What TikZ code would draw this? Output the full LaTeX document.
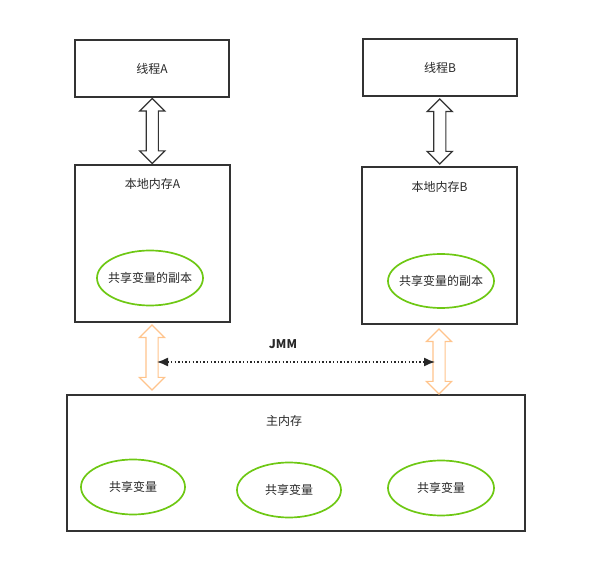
\documentclass[tikz,border=0pt]{standalone}
\usepackage{fontspec}
\setmainfont{Noto Sans CJK SC}
\usetikzlibrary{arrows.meta,shapes.geometric,shapes.arrows,calc}

\begin{document}
\begin{tikzpicture}[x=1pt,y=-1pt,font=\fontsize{12}{14}\selectfont,
 box/.style={draw=edge,line width=1.5pt,minimum width=154,minimum height=57,text=ink},
 var/.style={ellipse,draw=vargreen,line width=1.7pt,minimum width=106,minimum height=55,inner sep=0pt,text=ink},
 link/.style={double arrow,draw=#1,line width=1.2pt,fill=white,minimum height=65,
  inner xsep=0pt,inner ysep=5.5pt,double arrow head extend=6.5pt,rotate=90}]
\definecolor{edge}{RGB}{51,51,51}
\definecolor{ink}{RGB}{40,40,40}
\definecolor{vargreen}{RGB}{110,200,20}
\definecolor{sync}{RGB}{255,196,140}
\useasboundingbox (0,0) rectangle (595,561);
% threads and their working memory
\node[box] (thA) at (152,68.5) {线程A};
\node[box] (thB) at (440,67.5) {线程B};
\node[box,minimum width=155,minimum height=157] (memA) at (152.5,243.5) {};
\node[box,minimum width=155,minimum height=157] (memB) at (439.5,245.5) {};
\node[text=ink] (memAlbl) at ([yshift=-20]memA.north) {本地内存A};
\node[text=ink] (memBlbl) at ([yshift=-21]memB.north) {本地内存B};
\node[var,inner xsep=-5pt] (cpA) at (150,278) {共享变量的副本};
\node[var,inner xsep=-5pt,minimum height=54] (cpB) at (441,281) {共享变量的副本};
\node[link=edge] (aA) at ($(thA.south)!0.5!(memA.north)$) {};
\node[link=edge] (aB) at ($(thB.south)!0.5!(memB.north)$) {};
% main memory
\node[box,minimum width=458,minimum height=136] (main) at (296,463) {};
\node[text=ink] (mainlbl) at ([xshift=-12,yshift=-27]main.north) {主内存};
\node[var,minimum width=104] (v1) at (133,487) {共享变量};
\node[var,minimum width=104] (v2) at (289,490) {共享变量};
\node[var] (v3) at (441,488) {共享变量};
% JMM control
\node[link=sync] (oA) at (152,357.5) {};
\node[link=sync] (oB) at (439,361.5) {};
\coordinate (jA) at (157,362);
\coordinate (jB) at (435,362);
\draw[ink,line width=1.4pt,dash pattern=on 1.4pt off 2.2pt,
 {Latex[length=11pt,width=9pt]}-{Latex[length=11pt,width=9pt]}] (jA) -- (jB);
\node[text=ink,font=\fontsize{12}{14}\selectfont\bfseries] (jmm) at (283,344) {JMM};
\end{tikzpicture}
\end{document}
